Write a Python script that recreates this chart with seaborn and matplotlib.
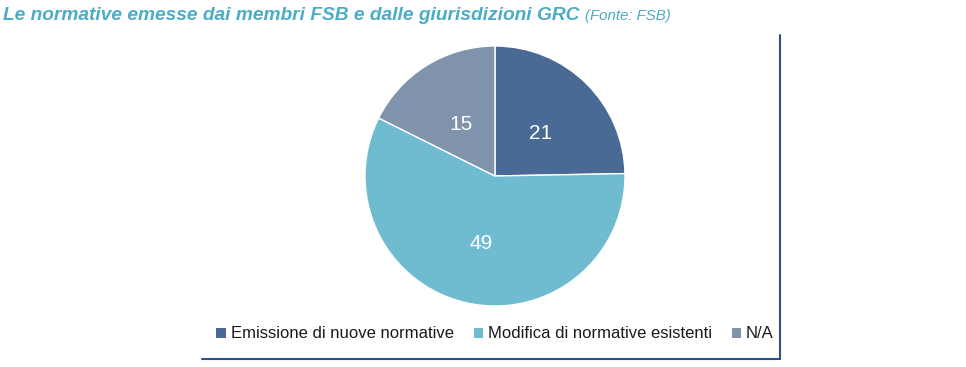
import matplotlib
matplotlib.use("Agg")
import matplotlib.pyplot as plt
import seaborn as sns
from matplotlib.patches import Patch
from matplotlib.lines import Line2D

categories = ["Emissione di nuove normative", "Modifica di normative esistenti", "N/A"]
values = [21, 49, 15]
colors = ["#4A6A96", "#6FBCD1", "#7F93AD"]
title = "Le normative emesse dai membri FSB e dalle giurisdizioni GRC"
source = "(Fonte: FSB)"

sns.set_theme(style="white")
plt.rcParams["font.family"] = ["Liberation Sans", "DejaVu Sans"]

W, H = 966, 367
fig = plt.figure(figsize=(W / 100, H / 100), dpi=100)
fig.patch.set_facecolor("white")

cx, cy, r = 495, 176, 130
ax = fig.add_axes([(cx - r) / W, 1 - (cy + r) / H, 2 * r / W, 2 * r / H])
wedges, texts, autotexts = ax.pie(
    values, colors=colors, startangle=90, counterclock=False,
    autopct=lambda p: f"{p * sum(values) / 100:.0f}", pctdistance=0.5,
    wedgeprops=dict(edgecolor="white", linewidth=1.0),
    textprops=dict(color="white", fontsize=15))
for t in autotexts:
    x, y = t.get_position()
    t.set_position((x, y - 4 / r))
ax.set_aspect("equal")
ax.set_xlim(-1, 1)
ax.set_ylim(-1, 1)
ax.axis("off")

# frame lines
lc = "#2B5287"
fig.add_artist(Line2D([780 / W, 780 / W], [1 - 35 / H, 1 - 359 / H], color=lc, lw=1.5))
fig.add_artist(Line2D([202 / W, 780 / W], [1 - 359 / H, 1 - 359 / H], color=lc, lw=1.5))

handles = [Patch(facecolor=c, edgecolor="none") for c in colors]
leg = fig.legend(handles, categories, loc="center", bbox_to_anchor=(495 / W, 1 - 334 / H),
                 ncol=3, frameon=False, fontsize=12, handlelength=0.55, handleheight=0.55,
                 handletextpad=0.3, columnspacing=1.2)
for t in leg.get_texts():
    t.set_color("#1A1A1A")

tc = "#4BACC6"
t1 = fig.text(3 / W, 1 - 15 / H, title, fontsize=13.8, fontweight="bold", fontstyle="italic",
              color=tc, va="center", ha="left")
fig.canvas.draw()
bb = t1.get_window_extent()
fig.text((bb.x1 + 6) / W, 1 - 16 / H, source, fontsize=10.8, fontstyle="italic",
         color=tc, va="center", ha="left")

fig.savefig("out.png", dpi=100, facecolor="white")
